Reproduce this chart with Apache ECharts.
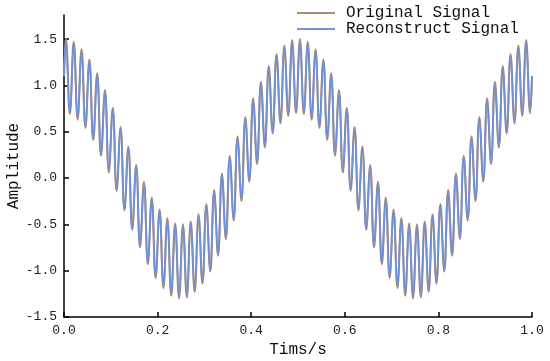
<!DOCTYPE html>
<html>
<head>
<meta charset="utf-8">
<script src="https://cdn.jsdelivr.net/npm/echarts@6/dist/echarts.min.js"></script>
<style>html,body{margin:0;padding:0;background:#fff}#c{width:550px;height:361px}</style>
</head>
<body>
<div id="c"></div>
<script>
// Sampling grid: start, end, and the extrema of the fast oscillation (every 1/120 s, first at 1/240 s)
const tStart = 0;
const tEnd = 1;
const firstExtremum = 1 / 240;
const extremumStep = 1 / 120;

// Original signal: value at t=0, then each extremum (peak/trough alternating), then value at t=1
const originalStart = 1.10;
const originalExtrema = [
  1.50, 0.69, 1.47, 0.63, 1.39, 0.54, 1.28, 0.41, 1.13, 0.24,
  0.95, 0.06, 0.76, -0.14, 0.55, -0.35, 0.34, -0.56, 0.14, -0.75,
  -0.04, -0.93, -0.21, -1.08, -0.34, -1.19, -0.43, -1.27, -0.49, -1.30,
  -0.50, -1.29, -0.47, -1.23, -0.39, -1.14, -0.28, -1.01, -0.13, -0.84,
  0.05, -0.66, 0.24, -0.46, 0.45, -0.25, 0.66, -0.04, 0.86, 0.15,
  1.04, 0.33, 1.21, 0.48, 1.34, 0.59, 1.43, 0.67, 1.49, 0.70,
  1.50, 0.69, 1.47, 0.63, 1.39, 0.54, 1.28, 0.41, 1.13, 0.24,
  0.95, 0.06, 0.76, -0.14, 0.55, -0.35, 0.34, -0.56, 0.14, -0.75,
  -0.04, -0.93, -0.21, -1.08, -0.34, -1.19, -0.43, -1.27, -0.49, -1.30,
  -0.50, -1.29, -0.47, -1.23, -0.39, -1.14, -0.28, -1.01, -0.13, -0.84,
  0.05, -0.66, 0.24, -0.46, 0.45, -0.25, 0.66, -0.04, 0.86, 0.15,
  1.04, 0.33, 1.21, 0.48, 1.34, 0.59, 1.43, 0.67, 1.49, 0.70
];
const originalEnd = 1.10;

// Reconstructed signal (slightly smaller swings)
const reconStart = 1.10;
const reconExtrema = [
  1.48, 0.71, 1.45, 0.65, 1.37, 0.56, 1.26, 0.43, 1.11, 0.26,
  0.93, 0.08, 0.74, -0.12, 0.53, -0.33, 0.32, -0.54, 0.12, -0.73,
  -0.06, -0.91, -0.23, -1.06, -0.36, -1.17, -0.45, -1.25, -0.51, -1.28,
  -0.52, -1.27, -0.49, -1.21, -0.41, -1.12, -0.30, -0.99, -0.15, -0.82,
  0.03, -0.64, 0.22, -0.44, 0.43, -0.23, 0.64, -0.02, 0.84, 0.17,
  1.02, 0.35, 1.19, 0.50, 1.32, 0.61, 1.41, 0.69, 1.47, 0.72,
  1.48, 0.71, 1.45, 0.65, 1.37, 0.56, 1.26, 0.43, 1.11, 0.26,
  0.93, 0.08, 0.74, -0.12, 0.53, -0.33, 0.32, -0.54, 0.12, -0.73,
  -0.06, -0.91, -0.23, -1.06, -0.36, -1.17, -0.45, -1.25, -0.51, -1.28,
  -0.52, -1.27, -0.49, -1.21, -0.41, -1.12, -0.30, -0.99, -0.15, -0.82,
  0.03, -0.64, 0.22, -0.44, 0.43, -0.23, 0.64, -0.02, 0.84, 0.17,
  1.02, 0.35, 1.19, 0.50, 1.32, 0.61, 1.41, 0.69, 1.47, 0.72
];
const reconEnd = 1.10;

const seriesNames = ['Original Signal', 'Reconstruct Signal'];
const xAxisName = 'Tims/s';
const yAxisName = 'Amplitude';

function buildSeries(startVal, extrema, endVal) {
  const pts = [[tStart, startVal]];
  extrema.forEach((v, i) => pts.push([firstExtremum + i * extremumStep, v]));
  pts.push([tEnd, endVal]);
  return pts;
}

const FONT = '"Liberation Mono", "DejaVu Sans Mono", monospace';
const chart = echarts.init(document.getElementById('c'), null, {renderer: 'canvas'});
chart.setOption({
  animation: false,
  backgroundColor: '#fff',
  grid: {left: 64, right: 18, top: 15, bottom: 44, containLabel: false, outerBoundsMode: 'none'},
  legend: {
    orient: 'vertical',
    left: 297,
    top: 5,
    padding: 0,
    itemWidth: 38,
    itemHeight: 2,
    itemGap: 0,
    icon: 'rect',
    textStyle: {fontFamily: FONT, fontSize: 16, color: '#111', padding: [0, 0, 0, 6], lineHeight: 16},
    data: seriesNames
  },
  xAxis: {
    type: 'value',
    min: 0, max: 1, interval: 0.2,
    name: xAxisName,
    nameLocation: 'middle',
    nameGap: 25,
    nameMoveOverlap: false,
    nameTextStyle: {fontFamily: FONT, fontSize: 16, color: '#111'},
    axisLine: {show: true, onZero: false, lineStyle: {color: '#000', width: 1.5}},
    axisTick: {show: true, inside: true, length: 5, lineStyle: {color: '#000', width: 1.5}},
    axisLabel: {fontFamily: FONT, fontSize: 13, color: '#222', margin: 7, formatter: v => v.toFixed(1)},
    splitLine: {show: false}
  },
  yAxis: {
    type: 'value',
    min: -1.5, max: 1.76, interval: 0.5,
    name: yAxisName,
    nameLocation: 'middle',
    nameGap: 42,
    nameMoveOverlap: false,
    nameTextStyle: {fontFamily: FONT, fontSize: 16, color: '#111'},
    axisLine: {show: true, onZero: false, lineStyle: {color: '#000', width: 1.5}},
    axisTick: {show: true, inside: true, length: 5, lineStyle: {color: '#000', width: 1.5}},
    axisLabel: {fontFamily: FONT, fontSize: 13, color: '#222', margin: 7, showMaxLabel: false, formatter: v => v.toFixed(1)},
    splitLine: {show: false}
  },
  series: [
    {
      name: seriesNames[0], type: 'line', smooth: 0.45, showSymbol: false, symbol: 'none',
      color: '#ad8963',
      lineStyle: {color: '#ad8963', width: 2},
      data: buildSeries(originalStart, originalExtrema, originalEnd)
    },
    {
      name: seriesNames[1], type: 'line', smooth: 0.45, showSymbol: false, symbol: 'none',
      color: '#7090d8',
      lineStyle: {color: '#7090d8', width: 1.8},
      data: buildSeries(reconStart, reconExtrema, reconEnd)
    }
  ]
});
</script>
</body>
</html>
